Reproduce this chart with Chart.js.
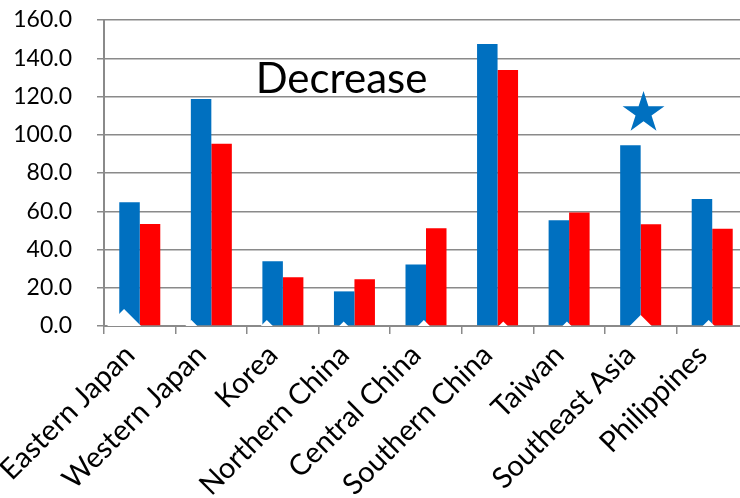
<!DOCTYPE html>
<html>
<head>
<meta charset="utf-8">
<script src="https://cdn.jsdelivr.net/npm/chart.js@4/dist/chart.umd.min.js"></script>
<style>
  html, body { margin: 0; padding: 0; background: #fff; overflow: hidden; font-family: Lato, sans-serif; }
  #wrap { position: relative; width: 748px; height: 498px; }
</style>
</head>
<body>
<div id="wrap"><canvas id="chart"></canvas></div>
<script>
const categories = ['Eastern Japan', 'Western Japan', 'Korea', 'Northern China', 'Central China',
                    'Southern China', 'Taiwan', 'Southeast Asia', 'Philippines'];
const blueValues = [64.7, 118.7, 33.8, 18.1, 32.1, 147.5, 55.3, 94.5, 66.4];
const redValues  = [53.3, 95.3, 25.5, 24.4, 51.1, 133.9, 59.3, 53.2, 50.9];
const yTicks     = [0, 20, 40, 60, 80, 100, 120, 140, 160];

// white notches sitting on the baseline of the blue bars (category offset, value)
const notchOffsets = [-0.22, -0.28, -0.225, -0.15, -0.03, 0.08, -0.03, 0.0, -0.05];
const notchValues  = [0, 0, 0, 0, 0, 0, 0, 0, 0];
const notchSizes   = [17, 6, 6, 4.5, 6, 4.5, 4.5, 11, 6];

// annotations: position in (category index, value)
const labelText = 'Decrease';
const labelAt   = [2.82, 122];
const starAt    = [7.04, 111.4];

const BLUE = '#0070C0', RED = '#FF0000', GRID = '#8a8a8a';
const FONT = 'Lato';

const annotations = {
  id: 'annotations',
  afterDatasetsDraw(chart) {
    const { ctx, chartArea: a, scales: { x, y } } = chart;
    ctx.save();
    // notches, clipped to the plot area
    ctx.save();
    ctx.beginPath();
    ctx.rect(a.left, a.top, a.right - a.left, a.bottom - a.top);
    ctx.clip();
    ctx.fillStyle = '#fff';
    notchOffsets.forEach((o, i) => {
      const nx = x.getPixelForValue(i + o), ny = y.getPixelForValue(notchValues[i]), s = notchSizes[i];
      ctx.beginPath();
      ctx.moveTo(nx - s, ny); ctx.lineTo(nx, ny - s); ctx.lineTo(nx + s, ny); ctx.lineTo(nx, ny + s);
      ctx.closePath();
      ctx.fill();
    });
    ctx.restore();

    ctx.fillStyle = '#000';
    ctx.font = `42px ${FONT}`;
    ctx.textAlign = 'center';
    ctx.textBaseline = 'alphabetic';
    ctx.fillText(labelText, x.getPixelForValue(labelAt[0]), y.getPixelForValue(labelAt[1]));

    const cx = x.getPixelForValue(starAt[0]), cy = y.getPixelForValue(starAt[1]);
    const R = 22, r = R * 0.382;
    ctx.beginPath();
    for (let i = 0; i < 10; i++) {
      const ang = -Math.PI / 2 + i * Math.PI / 5, rr = i % 2 ? r : R;
      const px = cx + rr * Math.cos(ang), py = cy + rr * Math.sin(ang);
      i ? ctx.lineTo(px, py) : ctx.moveTo(px, py);
    }
    ctx.closePath();
    ctx.fillStyle = BLUE;
    ctx.fill();
    ctx.restore();
  }
};

new Chart(document.getElementById('chart'), {
  type: 'bar',
  data: {
    labels: categories,
    datasets: [
      { data: blueValues, backgroundColor: BLUE, borderWidth: 0 },
      { data: redValues,  backgroundColor: RED,  borderWidth: 0 }
    ]
  },
  options: {
    responsive: true, maintainAspectRatio: false, animation: false,
    layout: { padding: { top: 20, left: 0, right: 0, bottom: 0 } },
    plugins: { legend: { display: false }, tooltip: { enabled: false } },
    datasets: { bar: { categoryPercentage: 0.573, barPercentage: 1 } },
    scales: {
      x: {
        grid: { drawOnChartArea: false, drawTicks: true, tickLength: 8, color: GRID, lineWidth: 1.5 },
        border: { color: GRID, width: 2 },
        ticks: { color: '#000', font: { family: FONT, size: 29 }, minRotation: 45, maxRotation: 45, autoSkip: false,
                 padding: 4, labelOffset: -10 },
        afterFit(s) { s.height = 172; s.paddingLeft = 0; s.paddingRight = 0; }
      },
      y: {
        min: 0, max: 160,
        afterBuildTicks(s) { s.ticks = yTicks.map(v => ({ value: v })); },
        grid: { color: GRID, lineWidth: 1.5, tickLength: 7 },
        border: { color: GRID, width: 2 },
        ticks: { color: '#000', font: { family: FONT, size: 23 }, padding: 25, callback: v => v.toFixed(1) },
        afterFit(s) { s.width = 104; s.paddingTop = 0; s.paddingBottom = 0; }
      }
    }
  },
  plugins: [annotations]
});
</script>
</body>
</html>
